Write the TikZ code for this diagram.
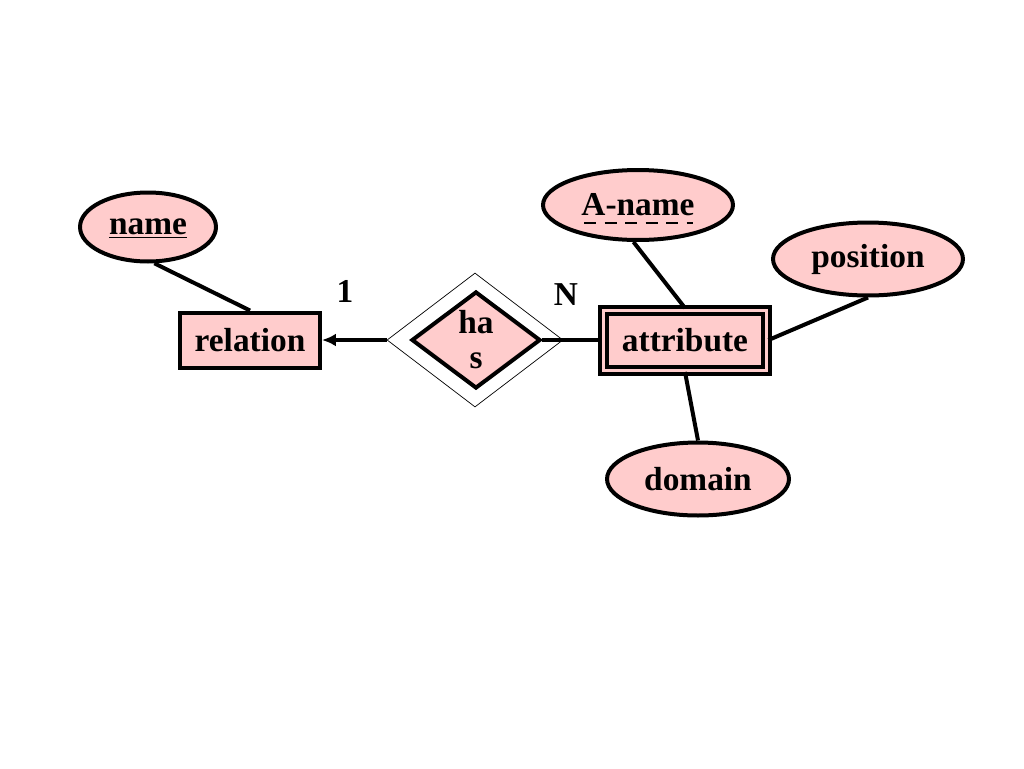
\documentclass[tikz,border=0pt]{standalone}
\usepackage{fontspec}
\setmainfont{Liberation Serif}
\usetikzlibrary{shapes.geometric,arrows.meta}
\definecolor{erpink}{RGB}{255,204,204}
\tikzset{
  erfont/.style={font=\fontsize{19}{20}\selectfont\bfseries},
  attrib/.style={draw,ellipse,fill=erpink,line width=0.08cm,inner sep=0pt,erfont},
  entitybox/.style={draw,rectangle,fill=erpink,line width=0.08cm,inner sep=0pt,erfont},
  erline/.style={line width=0.08cm}
}
\begin{document}
\begin{tikzpicture}[x=0.02cm,y=-0.02cm]
    \useasboundingbox (0,0) rectangle (1024,768);
    % entities
    \node[entitybox,minimum width=2.8cm,minimum height=1.1cm] (relation)
      at (250, 340) {relation};
    \node[entitybox,double=erpink,double distance=0.06cm,
      minimum width=3.26cm,minimum height=1.2cm] (attribute)
      at (685, 340) {attribute};
    % identifying relationship
    \node[draw,diamond,thin,inner sep=0pt,minimum width=3.52cm,
      minimum height=2.68cm] (hasout) at (475, 340) {};
    \node[draw,diamond,fill=erpink,line width=0.08cm,inner sep=0pt,
      minimum width=2.58cm,minimum height=1.94cm,
      label={[erfont,align=center]center:ha\\s}] (has) at (476, 340) {};
    % attributes
    \node[attrib,text depth=0pt,minimum width=2.72cm,minimum height=1.38cm] (name)
      at (148, 227) {\underline{name}};
    \node[attrib,minimum width=3.8cm,minimum height=1.4cm] (aname)
      at (638, 205) {A-name};
    \draw[line width=0.05cm,dash pattern=on 0.24cm off 0.17cm]
      ([xshift=-1.08cm,yshift=-0.14cm]aname.base)
      -- ([xshift=1.1cm,yshift=-0.14cm]aname.base);
    \node[attrib,minimum width=3.8cm,minimum height=1.46cm] (position)
      at (868, 259) {position};
    \node[attrib,minimum width=3.64cm,minimum height=1.46cm] (domain)
      at (698, 479) {domain};
    % connectors
    \draw[erline,-{Latex[length=0.28cm,width=0.26cm]}] (hasout.west) -- (relation.east);
    \draw[erline] (has.east) -- (attribute.west);
    \draw[erline] (name.-80) -- (relation.north);
    \draw[erline] (aname.-97) -- (attribute.north);
    \draw[erline] (position.-90) -- (attribute.east);
    \draw[erline] (attribute.south) -- (domain.north);
    % cardinalities
    \node[erfont] (one) at (345, 291) {1};
    \node[erfont] (many) at (566, 295) {N};
  \end{tikzpicture}
\end{document}
